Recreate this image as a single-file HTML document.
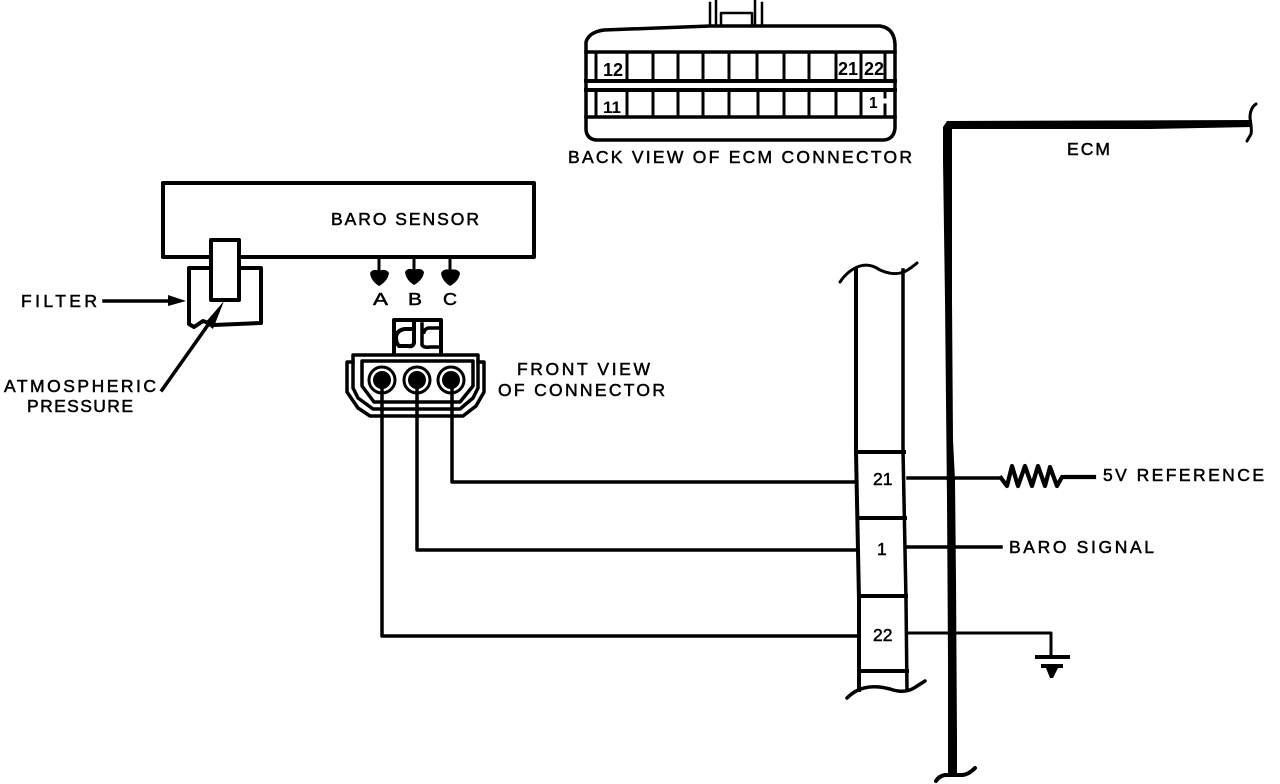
<!DOCTYPE html>
<html>
<head>
<meta charset="utf-8">
<style>
html,body{margin:0;padding:0;background:#fff;width:1280px;height:784px;overflow:hidden}
svg{display:block}
text{font-family:"Liberation Sans",sans-serif;fill:#000;font-size:17.5px;stroke:#000;stroke-width:.5}
.n{font-size:18px;font-weight:bold;stroke:none}
</style>
</head>
<body>
<svg width="1280" height="784" viewBox="0 0 1280 784" xmlns="http://www.w3.org/2000/svg">
<g fill="none" stroke="#000" stroke-width="3" stroke-linejoin="round" stroke-linecap="square">
  <!-- ECM connector -->
  <path d="M710 3V26M716 1V26M755 1V26M762 3V26M721 26V13H752V26" stroke-width="2.5"/>
  <path d="M586 52V42Q589 32 604 30L710 26H880Q894 28 895 44V128Q894 139 884 140H596Q587 139 586 130Z" stroke-width="3.5"/>
  <path d="M586 52H895M586 117H895" stroke-width="3.5"/>
  <path d="M586 81H895M586 90H895" stroke-width="4"/>
  <path d="M596 52V81M627 52V81M653 52V81M678 52V81M703 52V81M729 52V81M757 52V81M784 52V81M809 52V81M836 52V81M861 52V81M885 52V81"/>
  <path d="M596 90V117M627 90V117M653 90V117M678 90V117M703 90V117M729 90V117M758 90V117M784 90V117M809 90V117M836 90V117M861 90V117M885 90V97M885 105V117"/>
  <!-- BARO sensor -->
  <path d="M211 257H163V183H534V257H239" stroke-width="4"/>
  <path d="M211 268H189V324L194 327L203 321L214 325L261 323V268H239" stroke-width="4"/>
  <rect x="211" y="240" width="28" height="60" stroke-width="4"/>
  <!-- filter arrow -->
  <path d="M104 301H172" stroke-width="3.5"/>
  <path d="M162 390L215 315" stroke-width="3.5"/>
  <!-- pins -->
  <path d="M379 258V272M414 258V272M450 258V272" stroke-width="3"/>
  <!-- connector tab -->
  <path d="M394 352V320H441V352" stroke-width="4"/>
  <path d="M414 323V343Q413 347 408 346H399Q396 343 396 337Q397 330 405 329H413" stroke-width="4"/>
  <path d="M422 324V345Q424 348 430 347H440M440 328H428Q425 329 424 332" stroke-width="3.5"/>
  <!-- connector body -->
  <path d="M353 355H478V388L473 398L460 409H373L358 398L353 388Z" stroke-width="3.5"/>
  <path d="M353 362H347V392L358 408L370 416H463L476 406L484 392V362H478" stroke-width="3.5"/>
  <path d="M362 361H473V386L460 402H374L362 386Z" stroke-width="3.5"/>
  <circle cx="382" cy="380" r="13" stroke-width="3"/>
  <circle cx="417" cy="380" r="13" stroke-width="3"/>
  <circle cx="451" cy="380" r="13" stroke-width="3"/>
  <circle cx="382" cy="380" r="9" fill="#000" stroke="none"/>
  <circle cx="417" cy="380" r="9" fill="#000" stroke="none"/>
  <circle cx="451" cy="380" r="9" fill="#000" stroke="none"/>
  <!-- harness wires -->
  <path d="M382 381V636H856" stroke-width="3.5"/>
  <path d="M417 381V550H858" stroke-width="3.5"/>
  <path d="M452 381V482H855" stroke-width="3.5"/>
  <!-- strip -->
  <path d="M856 270V452L859 600V690" stroke-width="4"/>
  <path d="M903 270V450L906 600L907 690" stroke-width="3.5"/>
  <path d="M858 452H904M859 518H905M860 596H906M861 671H907" stroke-width="4"/>
  <path d="M840 282Q848 270 860 266Q870 263 880 270Q893 276 904 272Q910 269 917 263" stroke-width="3" stroke-linecap="round"/>
  <path d="M847 698Q855 690 864 688Q875 685 890 689Q904 694 914 688L925 681" stroke-width="3.5" stroke-linecap="round"/>
  <!-- ECM frame -->
  <path d="M1256 104Q1250 108 1250 118Q1252 130 1251 134L1247 141" stroke-width="3" stroke-linecap="round"/>
  <path d="M936 781Q939 776 945 775H962Q968 775 975 768" stroke-width="4" stroke-linecap="round"/>
  <!-- right side wires -->
  <path d="M908 478H1001" stroke-width="3.5"/>
  <path d="M1001 478L1007 486L1012 466L1018 486L1025 466L1032 486L1038 466L1045 486L1050 467L1057 486L1062 477H1094" stroke-width="4.2" stroke-linejoin="round"/>
  <path d="M908 547H1001" stroke-width="3.5"/>
  <path d="M909 633H1051V657" stroke-width="3"/>
  <path d="M1037 657H1068" stroke-width="4"/>
  <path d="M1043 666H1061" stroke-width="4"/>
</g>
<!-- filled shapes -->
<polygon points="943,127 947,121 1252,120 1252,127 1150,129 952,129 952,300 953,440 955,480 956,580 957,740 957,776 948,776 948,660 947,500 945,300 943,160"/>
<circle cx="950" cy="478" r="4"/><circle cx="951" cy="547" r="4"/><circle cx="952" cy="633" r="4"/>
<polygon points="168,295 186,301 168,306"/>
<polygon points="224,301 205,323 213,329"/>
<path d="M370 273Q373 268 379 271Q386 268 389 273Q388 281 379 286Q371 281 370 273Z"/>
<path d="M405 272Q408 267 414 270Q421 267 424 272Q423 280 414 285Q406 280 405 272Z"/>
<path d="M441 273Q444 268 450 270Q457 268 460 273Q459 281 450 286Q442 281 441 273Z"/>
<polygon points="1046,668 1058,668 1053,678 1050,678"/>
<!-- connector labels -->
<text class="n" x="603" y="76">12</text>
<text class="n" x="603" y="113" style="font-size:17px">11</text>
<text class="n" x="838" y="75">21</text>
<text class="n" x="864" y="75">22</text>
<text class="n" x="869" y="108" style="font-size:15.5px">1</text>
<text x="568" y="163" textLength="344">BACK VIEW OF ECM CONNECTOR</text>
<text x="1067" y="155" textLength="43">ECM</text>
<text x="331" y="225" textLength="148">BARO SENSOR</text>
<text x="21" y="307" textLength="76">FILTER</text>
<text x="4" y="392" textLength="152">ATMOSPHERIC</text>
<text x="27" y="412" textLength="106">PRESSURE</text>
<text x="373" y="305" textLength="15" lengthAdjust="spacingAndGlyphs">A</text>
<text x="408" y="305" textLength="14" lengthAdjust="spacingAndGlyphs">B</text>
<text x="443" y="305" textLength="14" lengthAdjust="spacingAndGlyphs">C</text>
<text x="517" y="375" textLength="133">FRONT VIEW</text>
<text x="498" y="396" textLength="167">OF CONNECTOR</text>
<text x="873" y="485">21</text>
<text x="877" y="555">1</text>
<text x="873" y="641">22</text>
<text x="1103" y="481" textLength="161">5V REFERENCE</text>
<text x="1009" y="553" textLength="145">BARO SIGNAL</text>
</svg>
</body>
</html>
